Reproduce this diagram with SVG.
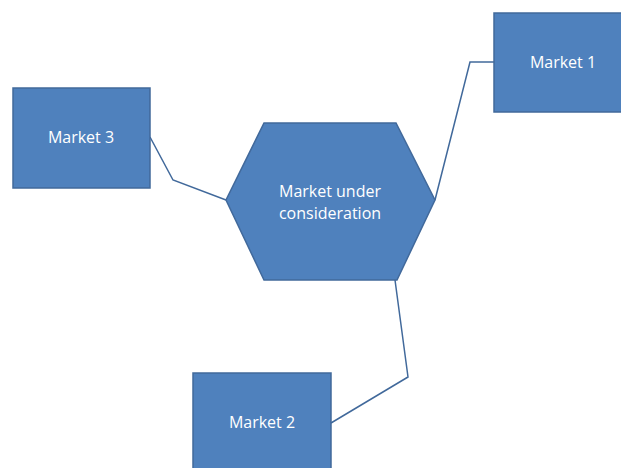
<svg xmlns="http://www.w3.org/2000/svg" width="621" height="468" viewBox="0 0 621 468">
<style>
.n{fill:#4F81BD;stroke:#41699B;stroke-width:1.5}
.t{fill:#FFFFFF;font-family:"Open Sans","Liberation Sans",sans-serif;font-size:16px;text-anchor:middle;dominant-baseline:central}
.c{fill:none;stroke:#41699B;stroke-width:1.5}
</style>
<rect width="621" height="468" fill="#FFFFFF"/>
<g id="connectors">
<polyline class="c" points="150,137 173,180 226,200"/>
<polyline class="c" points="494,62 470,62 435,200"/>
<polyline class="c" points="395,280 408,377 331,423"/>
</g>
<g id="center">
<polygon class="n" points="264,123 396,123 435,200 397,280 264,280 226,200"/>
<text class="t" x="330" y="191">Market under</text>
<text class="t" x="330" y="213">consideration</text>
</g>
<g id="market1">
<rect class="n" x="494" y="13" width="138" height="99"/>
<text class="t" x="563" y="62">Market 1</text>
</g>
<g id="market2">
<rect class="n" x="193" y="373" width="138" height="100"/>
<text class="t" x="262" y="422">Market 2</text>
</g>
<g id="market3">
<rect class="n" x="13" y="88" width="137" height="100"/>
<text class="t" x="81" y="137">Market 3</text>
</g>
</svg>
